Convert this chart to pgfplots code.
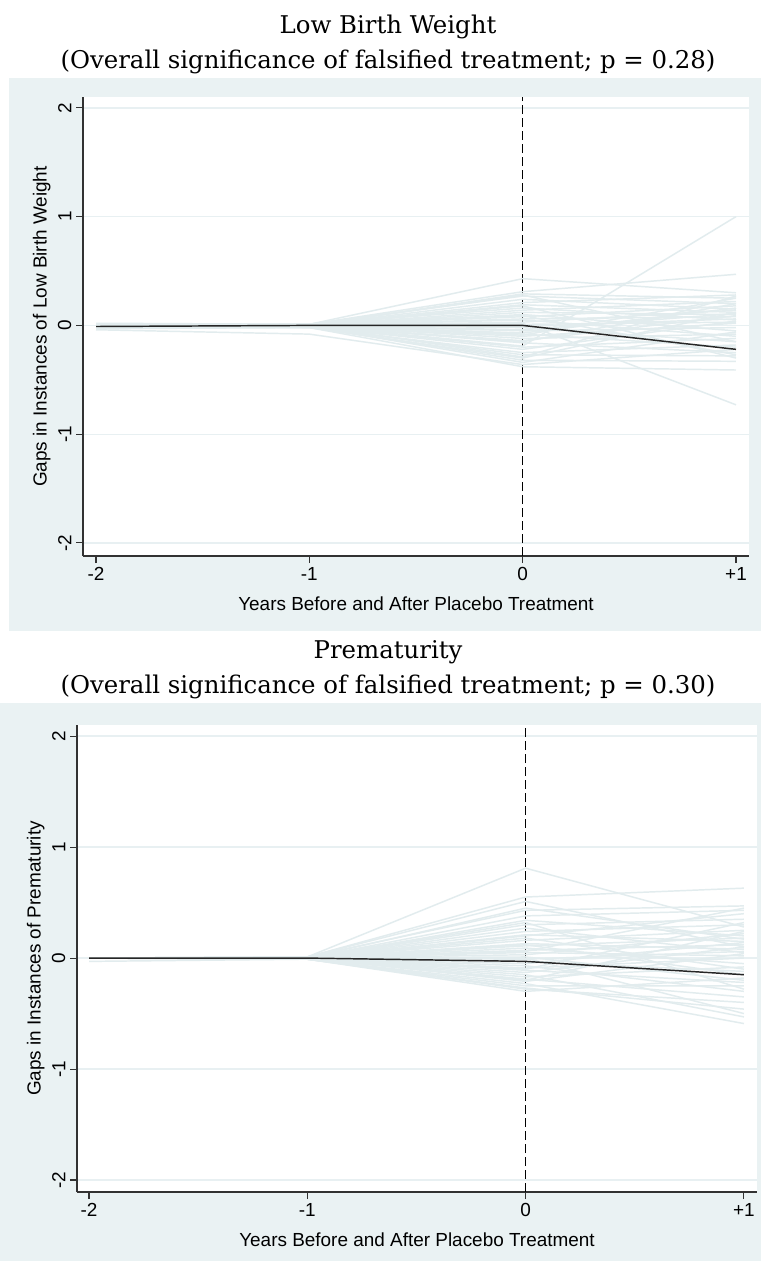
\documentclass[border=0pt]{standalone}
\usepackage{pgfplots}
\pgfplotsset{compat=1.18}
\usepackage{fontspec}
\setmainfont{Liberation Sans}
\newfontfamily\titlefont{DejaVu Serif}
\definecolor{bgc}{RGB}{234,242,243}
\definecolor{plcc}{RGB}{226,236,238}
\definecolor{axc}{RGB}{50,50,50}
\definecolor{grc}{RGB}{232,240,242}
\pgfplotsset{
  stata/.style={
    scale only axis,
    axis background/.style={fill=white},
    axis x line*=bottom, axis y line*=left,
    axis line style={axc, line width=0.8bp, -},
    tick style={axc, line width=0.8bp},
    tick align=outside,
    major tick length=5.25bp,
    xtick={-2,-1,0,1}, xticklabels={-2,-1,0,+1},
    ytick={-2,-1,0,1,2}, yticklabels={-2,-1,0,1,2},
    ymajorgrids, grid style={grc, line width=1bp},
    font=\fontsize{14.2bp}{17bp}\selectfont,
    yticklabel style={rotate=90, anchor=south},
    xlabel={Years Before and After Placebo Treatment},
    xlabel style={at={([yshift=-36bp]axis description cs:0.5,0)}, anchor=center},
    ylabel style={at={([xshift=-31bp]axis description cs:0,0.5)}, anchor=center},
  },
  pl/.style={plcc, line width=1.1bp, no markers},
  tr/.style={black!85, line width=1.1bp, no markers},
  vl/.style={black, line width=1.1bp, dash pattern=on 6.75bp off 3bp, no markers},
}
\newcommand\tfont{\titlefont\fontsize{18.3bp}{21bp}\selectfont}
\begin{document}
\begin{tikzpicture}
\useasboundingbox (0,0) rectangle (570.75bp,-945.75bp);
% backgrounds
\fill[bgc] (6.75bp,-58.5bp) rectangle (570.75bp,-473.25bp);
\fill[bgc] (0bp,-527.25bp) rectangle (570.75bp,-945.75bp);
% titles
\node[font=\tfont] at (291bp,-20.25bp) {Low Birth Weight};
\node[font=\tfont] at (291bp,-46.5bp) {(Overall significance of falsified treatment; p = 0.28)};
\node[font=\tfont] at (291bp,-489bp) {Prematurity};
\node[font=\tfont] at (291bp,-515.25bp) {(Overall significance of falsified treatment; p = 0.30)};

% Panel 1
\begin{axis}[stata, at={(62.25bp,-417bp)}, anchor=south west,
  width=499.5bp, height=344.25bp,
  xmin=-2.061, xmax=1.061, ymin=-2.12, ymax=2.10,
  ylabel={Gaps in Instances of Low Birth Weight}]
\addplot[vl] coordinates {(0,-2.12) (0,2.10)};
\addplot[pl] coordinates {(-2,0) (-1,0.01) (0,0.43) (1,0.30)};
\addplot[pl] coordinates {(-2,0) (-1,0.01) (0,0.31) (1,0.47)};
\addplot[pl] coordinates {(-2,0) (-1,0) (0,0.29) (1,0.25)};
\addplot[pl] coordinates {(-2,0.01) (-1,0.01) (0,0.27) (1,0.20)};
\addplot[pl] coordinates {(-2,0) (-1,0) (0,0.24) (1,0.15)};
\addplot[pl] coordinates {(-2,0) (-1,0) (0,0.21) (1,0.28)};
\addplot[pl] coordinates {(-2,0) (-1,0) (0,0.19) (1,0.12)};
\addplot[pl] coordinates {(-2,0) (-1,0.01) (0,0.16) (1,0.05)};
\addplot[pl] coordinates {(-2,0) (-1,0) (0,0.14) (1,0.22)};
\addplot[pl] coordinates {(-2,0) (-1,0) (0,0.12) (1,0.10)};
\addplot[pl] coordinates {(-2,0) (-1,0) (0,0.10) (1,-0.05)};
\addplot[pl] coordinates {(-2,0) (-1,0) (0,0.08) (1,0.18)};
\addplot[pl] coordinates {(-2,0) (-1,0) (0,0.06) (1,0.08)};
\addplot[pl] coordinates {(-2,0) (-1,0) (0,0.05) (1,-0.10)};
\addplot[pl] coordinates {(-2,0) (-1,0) (0,0.03) (1,0.14)};
\addplot[pl] coordinates {(-2,0) (-1,0) (0,0.02) (1,-0.73)};
\addplot[pl] coordinates {(-2,0) (-1,0) (0,0.01) (1,0.03)};
\addplot[pl] coordinates {(-2,0) (-1,0) (0,-0.01) (1,0.06)};
\addplot[pl] coordinates {(-2,0) (-1,0) (0,-0.02) (1,-0.15)};
\addplot[pl] coordinates {(-2,0) (-1,0) (0,-0.04) (1,0.11)};
\addplot[pl] coordinates {(-2,0) (-1,0) (0,-0.05) (1,-0.02)};
\addplot[pl] coordinates {(-2,0) (-1,0) (0,-0.07) (1,0.16)};
\addplot[pl] coordinates {(-2,0) (-1,0) (0,-0.08) (1,-0.20)};
\addplot[pl] coordinates {(-2,0) (-1,-0.01) (0,-0.10) (1,0.02)};
\addplot[pl] coordinates {(-2,0) (-1,0) (0,-0.12) (1,-0.08)};
\addplot[pl] coordinates {(-2,0) (-1,-0.01) (0,-0.14) (1,0.09)};
\addplot[pl] coordinates {(-2,0) (-1,0) (0,-0.16) (1,-0.25)};
\addplot[pl] coordinates {(-2,0) (-1,0) (0,-0.19) (1,1.00)};
\addplot[pl] coordinates {(-2,0) (-1,-0.01) (0,-0.20) (1,-0.12)};
\addplot[pl] coordinates {(-2,0) (-1,-0.01) (0,-0.22) (1,0.04)};
\addplot[pl] coordinates {(-2,-0.02) (-1,-0.02) (0,-0.25) (1,-0.18)};
\addplot[pl] coordinates {(-2,0) (-1,-0.01) (0,-0.27) (1,-0.28)};
\addplot[pl] coordinates {(-2,-0.03) (-1,-0.02) (0,-0.30) (1,0.12)};
\addplot[pl] coordinates {(-2,0) (-1,-0.01) (0,-0.34) (1,-0.06)};
\addplot[pl] coordinates {(-2,0) (-1,-0.01) (0,-0.32) (1,-0.33)};
\addplot[pl] coordinates {(-2,-0.04) (-1,-0.08) (0,-0.36) (1,-0.22)};
\addplot[pl] coordinates {(-2,0) (-1,-0.02) (0,-0.38) (1,-0.41)};
\addplot[pl] coordinates {(-2,0) (-1,0) (0,-0.29) (1,0.27)};
\addplot[pl] coordinates {(-2,0) (-1,0) (0,0.18) (1,-0.30)};
\addplot[pl] coordinates {(-2,0) (-1,0) (0,0.28) (1,-0.15)};
\addplot[pl] coordinates {(-2,0) (-1,0) (0,-0.15) (1,0.20)};
\addplot[pl] coordinates {(-2,0.02) (-1,0.01) (0,0.09) (1,-0.27)};
\addplot[pl] coordinates {(-2,0) (-1,0) (0,-0.09) (1,0.25)};
\addplot[tr] coordinates {(-2,-0.01) (-1,0) (0,0) (1,-0.22)};
\end{axis}

% Panel 2
\begin{axis}[stata, at={(57.75bp,-894bp)}, anchor=south west,
  width=510bp, height=350.25bp,
  xmin=-2.055, xmax=1.06, ymin=-2.108, ymax=2.10,
  ylabel={Gaps in Instances of Prematurity}]
\addplot[vl] coordinates {(0,-2.108) (0,2.10)};
\addplot[pl] coordinates {(-2,0) (-1,0.01) (0,0.81) (1,0.28)};
\addplot[pl] coordinates {(-2,0) (-1,0.01) (0,0.55) (1,0.63)};
\addplot[pl] coordinates {(-2,0) (-1,0.01) (0,0.51) (1,0.10)};
\addplot[pl] coordinates {(-2,0) (-1,0.01) (0,0.43) (1,0.47)};
\addplot[pl] coordinates {(-2,0) (-1,0) (0,0.38) (1,0.43)};
\addplot[pl] coordinates {(-2,0) (-1,0) (0,0.34) (1,0.20)};
\addplot[pl] coordinates {(-2,0) (-1,0) (0,0.30) (1,0.35)};
\addplot[pl] coordinates {(-2,0) (-1,0) (0,0.27) (1,0.05)};
\addplot[pl] coordinates {(-2,0) (-1,0) (0,0.24) (1,0.30)};
\addplot[pl] coordinates {(-2,0) (-1,0) (0,0.21) (1,0.15)};
\addplot[pl] coordinates {(-2,0) (-1,0) (0,0.18) (1,-0.10)};
\addplot[pl] coordinates {(-2,0) (-1,0) (0,0.16) (1,0.25)};
\addplot[pl] coordinates {(-2,0) (-1,0) (0,0.13) (1,0.08)};
\addplot[pl] coordinates {(-2,0) (-1,0) (0,0.11) (1,0.18)};
\addplot[pl] coordinates {(-2,0) (-1,0) (0,0.09) (1,-0.05)};
\addplot[pl] coordinates {(-2,0) (-1,0) (0,0.07) (1,0.12)};
\addplot[pl] coordinates {(-2,0) (-1,0) (0,0.05) (1,0.02)};
\addplot[pl] coordinates {(-2,0) (-1,0) (0,0.03) (1,0.22)};
\addplot[pl] coordinates {(-2,0) (-1,0) (0,0.01) (1,-0.20)};
\addplot[pl] coordinates {(-2,0) (-1,0) (0,-0.01) (1,0.06)};
\addplot[pl] coordinates {(-2,0) (-1,0) (0,-0.03) (1,-0.12)};
\addplot[pl] coordinates {(-2,0) (-1,0) (0,-0.05) (1,0.14)};
\addplot[pl] coordinates {(-2,0) (-1,0) (0,-0.07) (1,-0.30)};
\addplot[pl] coordinates {(-2,0) (-1,0) (0,-0.09) (1,0.00)};
\addplot[pl] coordinates {(-2,0) (-1,0) (0,-0.11) (1,-0.22)};
\addplot[pl] coordinates {(-2,0) (-1,0) (0,-0.13) (1,0.10)};
\addplot[pl] coordinates {(-2,0) (-1,0) (0,-0.15) (1,-0.53)};
\addplot[pl] coordinates {(-2,0) (-1,0) (0,-0.17) (1,-0.08)};
\addplot[pl] coordinates {(-2,0) (-1,0) (0,-0.19) (1,-0.35)};
\addplot[pl] coordinates {(-2,0) (-1,0) (0,-0.21) (1,0.04)};
\addplot[pl] coordinates {(-2,0) (-1,-0.01) (0,-0.23) (1,-0.59)};
\addplot[pl] coordinates {(-2,0) (-1,-0.01) (0,-0.25) (1,-0.25)};
\addplot[pl] coordinates {(-2,0) (-1,-0.01) (0,-0.27) (1,-0.46)};
\addplot[pl] coordinates {(-2,0) (-1,-0.01) (0,-0.30) (1,-0.18)};
\addplot[pl] coordinates {(-2,-0.03) (-1,-0.01) (0,-0.28) (1,-0.40)};
\addplot[pl] coordinates {(-2,0) (-1,0) (0,0.32) (1,-0.28)};
\addplot[pl] coordinates {(-2,0) (-1,0) (0,0.20) (1,0.40)};
\addplot[pl] coordinates {(-2,0) (-1,0) (0,-0.10) (1,0.32)};
\addplot[pl] coordinates {(-2,0) (-1,0) (0,0.45) (1,0.17)};
\addplot[pl] coordinates {(-2,0) (-1,0) (0,0.00) (1,-0.50)};
\addplot[pl] coordinates {(-2,0) (-1,0) (0,0.12) (1,-0.15)};
\addplot[pl] coordinates {(-2,0) (-1,0) (0,-0.20) (1,0.24)};
\addplot[pl] coordinates {(-2,0) (-1,0) (0,0.06) (1,0.45)};
\addplot[tr] coordinates {(-2,0) (-1,0) (0,-0.03) (1,-0.15)};
\end{axis}
\end{tikzpicture}
\end{document}
